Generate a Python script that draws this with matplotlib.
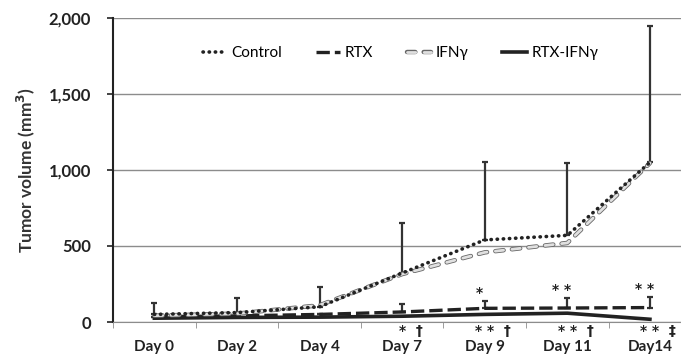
import numpy as np
import matplotlib.pyplot as plt
import matplotlib.patheffects as pe

days = ['Day 0', 'Day 2', 'Day 4', 'Day 7', 'Day 9', 'Day 11', 'Day14']
control = [50, 62, 100, 322, 540, 570, 1050]
control_err = [72, 95, 128, 330, 510, 475, 895]
rtx = [35, 40, 50, 66, 90, 92, 95]
rtx_err = [0, 0, 0, 55, 48, 65, 70]
ifn = [42, 55, 110, 315, 458, 520, 1045]
rtx_ifn = [25, 30, 32, 38, 50, 58, 18]

above_labels = ['', '', '', '', '*', '* *', '* *']
below_labels = ['', '', '', '*  \u2020', '* *  \u2020', '* *  \u2020', '* *  \u2021']

FONT = ['Lato', 'DejaVu Sans']
plt.rcParams['font.family'] = FONT
plt.rcParams['font.weight'] = 'bold'

fig = plt.figure(figsize=(6.81, 3.56), dpi=100)
ax = fig.add_axes([0.166, 0.0955, 0.849, 0.854])
x = np.arange(len(days))

# gridlines
ax.yaxis.grid(True, color='#8c8c8c', lw=1)
ax.set_axisbelow(True)

# error bars (upper only)
ax.errorbar(x, control, yerr=[np.zeros(len(x)), control_err], fmt='none',
            ecolor='#333333', elinewidth=1.6, capsize=2, capthick=1.6, zorder=2)
ax.errorbar(x, rtx, yerr=[np.zeros(len(x)), rtx_err], fmt='none',
            ecolor='#333333', elinewidth=1.6, capsize=2, capthick=1.6, zorder=2)

ax.plot(x, rtx_ifn, color='#222222', lw=2.6, label='RTX-IFN\u03b3', zorder=3)
ax.plot(x, rtx, color='#222222', lw=2.4, ls=(0, (4, 1.5)), label='RTX', zorder=3)
ax.plot(x, ifn, color='#e0e0e0', lw=2.0, ls=(0, (3, 3)), dash_capstyle='round',
        path_effects=[pe.Stroke(linewidth=3.2, foreground='#666666'), pe.Normal()],
        label='IFN\u03b3', zorder=3)
ax.plot(x, control, color='#222222', lw=2.6, ls=(0, (0.1, 1.6)), dash_capstyle='round',
        label='Control', zorder=4)

# significance marks
for xi, (ya, yv) in enumerate(zip(above_labels, np.array(rtx) + np.array(rtx_err))):
    if ya:
        ax.text(xi - 0.07, yv + 5, ya, ha='center', va='bottom', fontsize=10,
                family='DejaVu Sans', color='#222222')
for xi, t in enumerate(below_labels):
    if t:
        ax.text(xi + 0.1, -12, t, ha='center', va='top', fontsize=10,
                family='DejaVu Sans', color='#222222')

ax.set_xlim(-0.5, 6.5)
ax.set_ylim(0, 2000)
ax.set_yticks([0, 500, 1000, 1500, 2000])
ax.set_yticklabels(['0', '500', '1,000', '1,500', '2,000'])
ax.set_xticks(x)
ax.set_xticklabels(days)
ax.set_xticks(np.arange(-0.5, 7, 1), minor=True)
ax.tick_params(axis='x', which='major', length=0, pad=13, labelsize=11, colors='#222222')
ax.tick_params(axis='x', which='minor', length=4, color='#8c8c8c', direction='out')
ax.tick_params(axis='y', length=4, width=1.2, labelsize=12, colors='#222222', pad=12)

for s in ['top', 'right']:
    ax.spines[s].set_visible(False)
ax.spines['left'].set_color('#222222')
ax.spines['left'].set_linewidth(1.5)
ax.spines['bottom'].set_color('#8c8c8c')

ax.set_ylabel('Tumor volume (mm$^3$)', fontsize=12.5, fontweight='bold', color='#333333', labelpad=8)

handles, labels = ax.get_legend_handles_labels()
order = [3, 1, 2, 0]
leg = ax.legend([handles[i] for i in order], [labels[i] for i in order], ncol=4,
                loc='center', bbox_to_anchor=(0.497, 0.885), frameon=False,
                handlelength=1.6, columnspacing=2.2, handletextpad=0.3,
                prop={'family': FONT, 'weight': 'normal', 'size': 11})

fig.savefig('out.png', dpi=100)
